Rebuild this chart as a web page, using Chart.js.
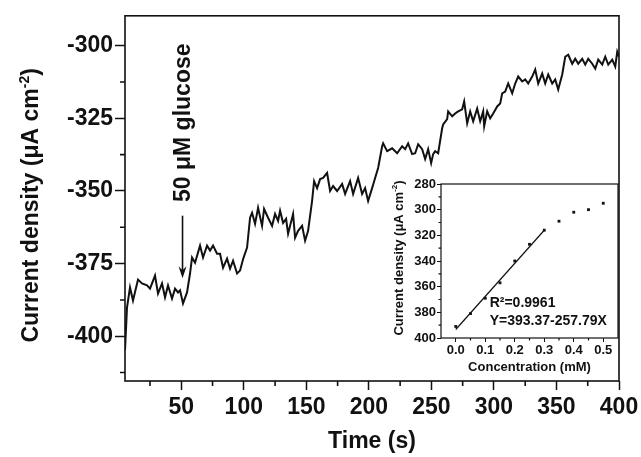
<!DOCTYPE html>
<html>
<head>
<meta charset="utf-8">
<script src="https://cdn.jsdelivr.net/npm/chart.js@4.4.0/dist/chart.umd.min.js"></script>
<style>
  html, body { margin: 0; padding: 0; background: #fff; }
  #wrap { position: relative; width: 641px; height: 457px; }
  #mainChart { position: absolute; left: 0; top: 0; }
  #insetChart { position: absolute; left: 385px; top: 165px; }
</style>
</head>
<body>
<div id="wrap">
  <canvas id="mainChart" width="641" height="457"></canvas>
  <canvas id="insetChart" width="240" height="210"></canvas>
</div>
<script>
// main trace: time (s) vs current density (uA cm-2)
const times = [
  5, 6.6, 9, 11.4, 15.4, 18.6, 22.6, 25, 29, 31.4,
  34.6, 37, 39.4, 42.6, 45, 47.4, 49, 51.4, 54.6, 57,
  58.6, 61, 65, 67.4, 70.6, 73, 75.4, 78.6, 81, 83.4,
  86.6, 89, 91.4, 94.6, 97, 99.4, 102.6, 105, 106.6, 109,
  111.4, 114.6, 116.2, 119.4, 122.6, 125, 127.4, 129, 131.4, 133.8,
  135.4, 139.4, 141, 143.4, 146.6, 149, 151.4, 154.6, 156.2, 158.6,
  161, 163.4, 166.6, 169, 171.4, 174.6, 178.6, 181, 185, 187.4,
  191.4, 194.6, 197, 199.4, 202.6, 205, 207.4, 210.6, 211.4, 214.6,
  218.6, 222.6, 226.6, 229, 231.4, 234.6, 237, 239.4, 242.6, 245,
  247.4, 249.8, 251.4, 253, 255.4, 258.6, 259.4, 262.6, 263.4, 266.6,
  269, 271.4, 274.6, 276.2, 278.6, 281, 283.4, 286.6, 289, 291.4,
  292.2, 294.6, 297, 299.4, 302.6, 305, 306.6, 309, 311.4, 314.6,
  317, 319.4, 322.6, 325, 327.4, 330.6, 333, 335.4, 338.6, 341,
  343.4, 346.6, 349, 351.4, 354.6, 357, 359.4, 362.6, 365, 367.4,
  370.6, 373, 375.4, 378.6, 381, 383.4, 386.6, 389, 391.4, 394.6,
  397, 398.6, 400
];
const currents = [
  -404.8, -390.1, -383.2, -387.7, -380.5, -381.8, -382.5, -383.6, -379.1, -385.3,
  -381.8, -386.6, -382.5, -387.0, -383.6, -384.9, -384.2, -388.7, -384.9, -378.4,
  -372.9, -374.7, -368.8, -372.9, -368.8, -370.5, -368.8, -371.6, -371.6, -376.4,
  -373.3, -376.7, -374.0, -378.4, -377.4, -373.5, -369.5, -359.2, -357.5, -361.3,
  -355.8, -362.0, -356.2, -359.2, -362.0, -357.9, -360.3, -356.8, -361.0, -359.6,
  -364.7, -357.9, -366.1, -363.7, -362.0, -367.1, -363.7, -353.4, -346.6, -349.0,
  -345.9, -345.5, -343.8, -350.0, -348.3, -350.0, -347.6, -351.0, -346.6, -351.0,
  -345.5, -351.0, -349.0, -353.4, -349.0, -345.5, -342.1, -334.6, -333.6, -336.3,
  -335.3, -337.0, -334.6, -335.6, -333.6, -337.3, -337.0, -333.9, -335.6, -339.0,
  -335.6, -340.4, -337.3, -336.3, -337.0, -328.4, -327.1, -325.3, -322.6, -324.3,
  -323.3, -322.6, -321.9, -319.2, -326.7, -322.6, -326.0, -321.6, -326.0, -322.6,
  -327.7, -322.6, -325.0, -323.3, -320.9, -319.9, -316.4, -315.8, -313.0, -316.4,
  -313.0, -310.6, -312.3, -311.6, -313.0, -310.6, -308.2, -313.0, -309.6, -313.0,
  -309.9, -313.0, -311.6, -315.1, -309.9, -303.8, -303.1, -306.2, -304.5, -306.2,
  -304.5, -306.5, -304.5, -306.2, -307.9, -304.8, -306.5, -303.8, -306.5, -304.8,
  -307.2, -302.1, -303.8
];
const xTicks = [50, 100, 150, 200, 250, 300, 350, 400];
const xMinor = [25, 75, 125, 175, 225, 275, 325, 375];
const yTicks = [-400, -375, -350, -325, -300];
const yMinor = [-412.5, -387.5, -362.5, -337.5, -312.5];

// inset: calibration points and the fitted line
const conc = [0, 0.05, 0.1, 0.15, 0.2, 0.25, 0.3, 0.35, 0.4, 0.45, 0.5];
const density = [391, 381, 369, 357, 340, 327, 316, 309, 302, 300, 295];
const fitX = [0, 0.3];
const fitY = [393.37, 316.03];
const concTicks = [0, 0.1, 0.2, 0.3, 0.4, 0.5];
const concMinor = [0.05, 0.15, 0.25, 0.35, 0.45];
const densTicks = [280, 300, 320, 340, 360, 380, 400];
const densMinor = [290, 310, 330, 350, 370, 390];

const FONT = '"Liberation Sans", Arial, sans-serif';
const INK = '#111';

// box round the plot plus short minor ticks
function framePlugin(xm, ym, len, lw) {
  return {
    id: 'frame',
    afterDraw(chart) {
      const { ctx, chartArea: a, scales: { x, y } } = chart;
      ctx.save();
      ctx.strokeStyle = INK;
      ctx.lineWidth = lw;
      ctx.strokeRect(a.left, a.top, a.right - a.left, a.bottom - a.top);
      ctx.beginPath();
      xm.forEach(v => {
        const px = x.getPixelForValue(v);
        ctx.moveTo(px, a.bottom);
        ctx.lineTo(px, a.bottom + len);
      });
      ym.forEach(v => {
        const py = y.getPixelForValue(v);
        ctx.moveTo(a.left, py);
        ctx.lineTo(a.left - len, py);
      });
      ctx.stroke();
      ctx.restore();
    }
  };
}

// vertical title with a superscript "-2"
function drawDensityTitle(ctx, cx, cy, size) {
  const main = 'Current density (\u03bcA cm';
  const sup = '-2';
  const end = ')';
  const supSize = Math.round(size * 0.6);
  ctx.save();
  ctx.translate(cx, cy);
  ctx.rotate(-Math.PI / 2);
  ctx.fillStyle = INK;
  ctx.textBaseline = 'alphabetic';
  ctx.font = `bold ${size}px ${FONT}`;
  const w1 = ctx.measureText(main).width;
  const w3 = ctx.measureText(end).width;
  ctx.font = `bold ${supSize}px ${FONT}`;
  const w2 = ctx.measureText(sup).width;
  let x0 = -(w1 + w2 + w3) / 2;
  const base = size * 0.36;
  ctx.font = `bold ${size}px ${FONT}`;
  ctx.fillText(main, x0, base);
  ctx.font = `bold ${supSize}px ${FONT}`;
  ctx.fillText(sup, x0 + w1, base - size * 0.42);
  ctx.font = `bold ${size}px ${FONT}`;
  ctx.fillText(end, x0 + w1 + w2, base);
  ctx.restore();
}

const arrowTime = 51;
const labelMid = -326.5;
const arrowFrom = -358.5;
const arrowTo = -380;

const mainDecor = {
  id: 'mainDecor',
  afterDraw(chart) {
    const { ctx, chartArea: a, scales: { x, y } } = chart;
    drawDensityTitle(ctx, 30, (a.top + a.bottom) / 2 + 7, 23);
    const px = x.getPixelForValue(arrowTime);
    ctx.save();
    ctx.translate(px, y.getPixelForValue(labelMid));
    ctx.rotate(-Math.PI / 2);
    ctx.font = `bold 23px ${FONT}`;
    ctx.fillStyle = INK;
    ctx.textAlign = 'center';
    ctx.textBaseline = 'middle';
    ctx.fillText('50 \u03bcM glucose', 0, 1);
    ctx.restore();
    const y0 = y.getPixelForValue(arrowFrom);
    const y1 = y.getPixelForValue(arrowTo);
    ctx.save();
    ctx.strokeStyle = INK;
    ctx.fillStyle = INK;
    ctx.lineWidth = 1.6;
    ctx.beginPath();
    ctx.moveTo(px, y0);
    ctx.lineTo(px, y1 - 8);
    ctx.stroke();
    ctx.beginPath();
    ctx.moveTo(px - 4, y1 - 12);
    ctx.lineTo(px, y1);
    ctx.lineTo(px + 4, y1 - 12);
    ctx.lineTo(px, y1 - 8);
    ctx.closePath();
    ctx.fill();
    ctx.restore();
  }
};

new Chart(document.getElementById('mainChart'), {
  type: 'scatter',
  data: {
    datasets: [{
      data: times.map((t, i) => ({ x: t, y: currents[i] })),
      showLine: true,
      borderColor: INK,
      borderWidth: 2,
      pointRadius: 0,
      tension: 0
    }]
  },
  options: {
    responsive: false,
    animation: false,
    layout: { padding: { top: 14, right: 22, left: 0, bottom: 0 } },
    plugins: { legend: { display: false }, tooltip: { enabled: false } },
    scales: {
      x: {
        type: 'linear',
        min: 5,
        max: 400,
        afterBuildTicks: s => { s.ticks = xTicks.map(v => ({ value: v })); },
        afterFit: s => { s.height = 76; s.paddingLeft = 0; s.paddingRight = 0; },
        grid: { drawOnChartArea: false, tickLength: 9, tickColor: INK, tickWidth: 1.5 },
        border: { display: false },
        ticks: { font: { family: FONT, size: 23, weight: 'bold' }, color: INK, padding: 4, maxRotation: 0 },
        title: {
          display: true,
          text: 'Time (s)',
          color: INK,
          font: { family: FONT, size: 23, weight: 'bold' },
          padding: { top: 0, bottom: 2 }
        }
      },
      y: {
        type: 'linear',
        min: -415.4,
        max: -289.7,
        afterBuildTicks: s => { s.ticks = yTicks.map(v => ({ value: v })); },
        afterFit: s => { s.width = 125; },
        grid: { drawOnChartArea: false, tickLength: 10, tickColor: INK, tickWidth: 1.5 },
        border: { display: false },
        ticks: { font: { family: FONT, size: 23, weight: 'bold' }, color: INK, padding: 2 }
      }
    }
  },
  plugins: [framePlugin(xMinor, yMinor, 5, 1.6), mainDecor]
});

const insetDecor = {
  id: 'insetDecor',
  afterDraw(chart) {
    const { ctx, chartArea: a, scales: { x, y } } = chart;
    drawDensityTitle(ctx, 13, (a.top + a.bottom) / 2 - 3, 13);
    ctx.save();
    ctx.fillStyle = INK;
    ctx.font = `bold 14px ${FONT}`;
    ctx.textBaseline = 'middle';
    const tx = x.getPixelForValue(0.115);
    ctx.fillText('R\u00b2=0.9961', tx, y.getPixelForValue(373));
    ctx.fillText('Y=393.37-257.79X', tx, y.getPixelForValue(387.2));
    ctx.restore();
  }
};

new Chart(document.getElementById('insetChart'), {
  type: 'scatter',
  data: {
    datasets: [
      {
        data: fitX.map((c, i) => ({ x: c, y: fitY[i] })),
        showLine: true,
        borderColor: INK,
        borderWidth: 1.2,
        pointRadius: 0
      },
      {
        data: conc.map((c, i) => ({ x: c, y: density[i] })),
        pointStyle: 'rect',
        pointRadius: 2,
        backgroundColor: INK,
        borderColor: INK,
        borderWidth: 0
      }
    ]
  },
  options: {
    responsive: false,
    animation: false,
    layout: { padding: { top: 19, right: 7, left: 0, bottom: 0 } },
    plugins: { legend: { display: false }, tooltip: { enabled: false } },
    scales: {
      x: {
        type: 'linear',
        min: -0.05,
        max: 0.55,
        afterBuildTicks: s => { s.ticks = concTicks.map(v => ({ value: v })); },
        afterFit: s => { s.height = 37; s.paddingLeft = 0; s.paddingRight = 0; },
        grid: { drawOnChartArea: false, tickLength: 4, tickColor: INK, tickWidth: 1 },
        border: { display: false },
        ticks: {
          font: { family: FONT, size: 13, weight: 'bold' }, color: INK, padding: 1, maxRotation: 0,
          callback: v => v.toFixed(1)
        },
        title: {
          display: true,
          text: 'Concentration (mM)',
          color: INK,
          font: { family: FONT, size: 13, weight: 'bold' },
          padding: { top: 0, bottom: 0 }
        }
      },
      y: {
        type: 'linear',
        reverse: true,
        min: 280,
        max: 400,
        afterBuildTicks: s => { s.ticks = densTicks.map(v => ({ value: v })); },
        afterFit: s => { s.width = 56; s.paddingTop = 0; s.paddingBottom = 0; },
        grid: { drawOnChartArea: false, tickLength: 4, tickColor: INK, tickWidth: 1 },
        border: { display: false },
        ticks: { font: { family: FONT, size: 13, weight: 'bold' }, color: INK, padding: 1 }
      }
    }
  },
  plugins: [framePlugin(concMinor, densMinor, 2.5, 1.2), insetDecor]
});
</script>
</body>
</html>
